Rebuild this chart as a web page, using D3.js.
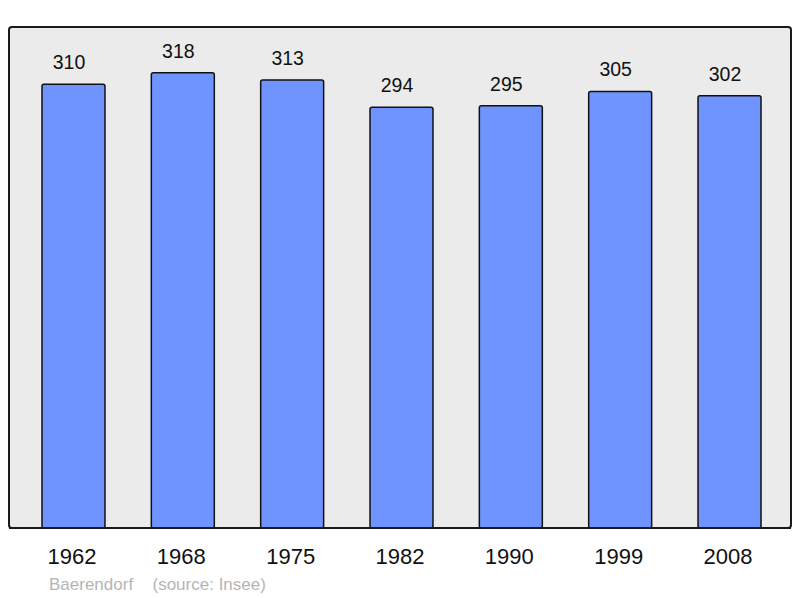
<!DOCTYPE html>
<html>
<head>
<meta charset="utf-8">
<script src="https://cdn.jsdelivr.net/npm/d3@7"></script>
<style>
  body { margin: 0; background: #fff; }
  svg { display: block; font-family: "Liberation Sans", Arial, sans-serif; }
</style>
</head>
<body>
<div id="chart"></div>
<script>

var years = ["1962", "1968", "1975", "1982", "1990", "1999", "2008"];
var population = [310, 318, 313, 294, 295, 305, 302];
var place = "Baerendorf";
var source = "(source: Insee)";

var width = 800, height = 598;
var frameLeft = 9, frameRight = 791, frameTop = 27, frameBottom = 528;

var svg = d3.select("#chart").append("svg")
	.attr("width", width)
	.attr("height", height);

// background frame
svg.append("rect")
	.attr("x", frameLeft)
	.attr("y", frameTop)
	.attr("width", frameRight - frameLeft)
	.attr("height", frameBottom - frameTop)
	.attr("rx", 3)
	.attr("fill", "#ebebeb")
	.attr("stroke", "#1a1a1a")
	.attr("stroke-width", 2);

var x = d3.scaleBand()
	.domain(years)
	.range([42, 761])
	.paddingInner(0.424)
	.paddingOuter(0);

var y = d3.scaleLinear()
	.domain([0, 350])
	.range([frameBottom, frameTop]);

var data = years.map(function(d, i){ return {year: d, value: population[i]}; });

svg.selectAll("rect.bar")
	.data(data)
	.enter().append("rect")
	.attr("class", "bar")
	.attr("x", function(d){ return x(d.year); })
	.attr("y", function(d){ return y(d.value); })
	.attr("width", x.bandwidth())
	.attr("height", function(d){ return y(0) - y(d.value); })
	.attr("rx", 2)
	.attr("fill", "#7094ff")
	.attr("stroke", "#111")
	.attr("stroke-width", 1.5);

// redraw bottom edge of the frame over the bars
svg.append("line")
	.attr("x1", frameLeft).attr("x2", frameRight)
	.attr("y1", frameBottom).attr("y2", frameBottom)
	.attr("stroke", "#1a1a1a")
	.attr("stroke-width", 2);

// value labels (sit a little left of the bar centre, as in the original)
svg.selectAll("text.value")
	.data(data)
	.enter().append("text")
	.attr("class", "value")
	.attr("x", function(d){ return x(d.year) + x.bandwidth() / 2 - 4.5; })
	.attr("y", function(d){ return y(d.value) - 15; })
	.attr("text-anchor", "middle")
	.attr("font-size", 19.5)
	.attr("fill", "#111")
	.text(function(d){ return d.value; });

// year axis
var xAxis = svg.append("g")
	.attr("transform", "translate(0," + frameBottom + ")")
	.call(d3.axisBottom(x).tickSize(0).tickPadding(20));
xAxis.select(".domain").remove();
xAxis.selectAll("text")
	.attr("font-size", 22)
	.attr("font-family", "Liberation Sans, Arial, sans-serif")
	.attr("fill", "#111")
	.attr("dx", "-1.5");

// footer
svg.append("text")
	.attr("x", 49)
	.attr("y", 590)
	.attr("font-size", 17)
	.attr("fill", "#b5b5b5")
	.text(place);

svg.append("text")
	.attr("x", 152.5)
	.attr("y", 590)
	.attr("font-size", 17)
	.attr("fill", "#b5b5b5")
	.text(source);

</script>
</body>
</html>
